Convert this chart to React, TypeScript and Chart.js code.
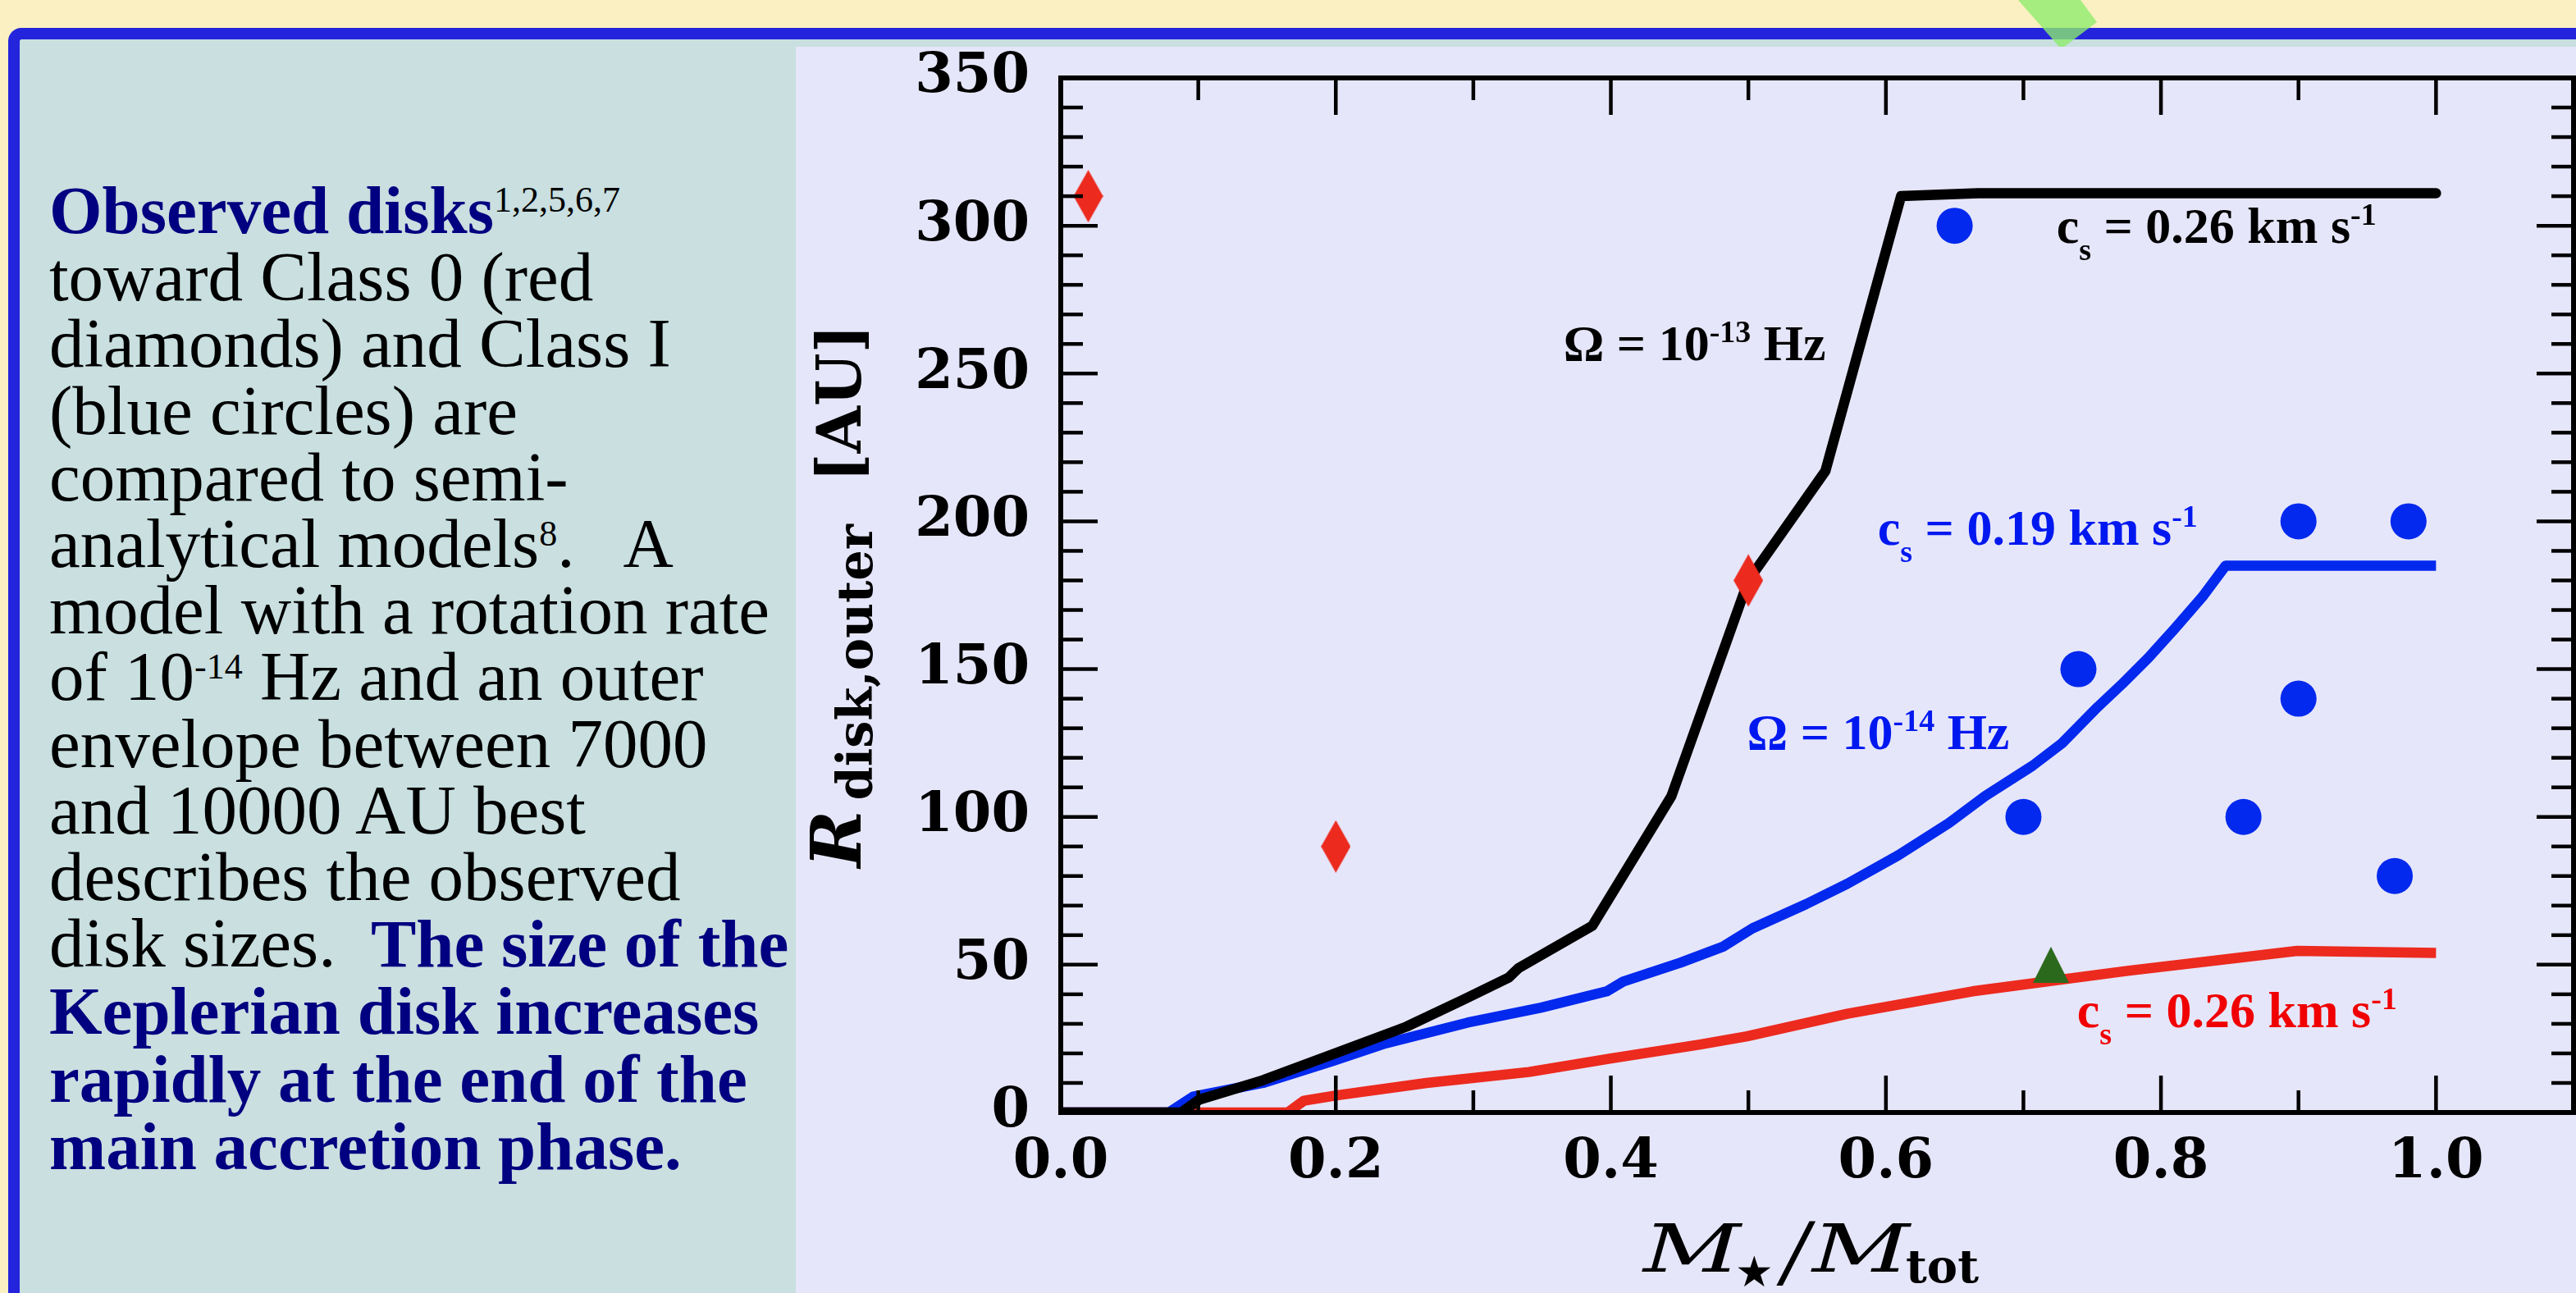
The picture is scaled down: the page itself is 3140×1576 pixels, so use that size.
import React, { useEffect, useRef } from 'react';
import { Chart, registerables } from 'chart.js';

Chart.register(...registerables);

// ---------- data ----------
const blackX = [0, 0.0875, 0.1009, 0.147, 0.1976, 0.2512, 0.2929, 0.3256, 0.333, 0.3866, 0.444, 0.5, 0.556, 0.611, 0.667, 1.0];
const blackY = [0, 0, 4.4, 10.9, 19.7, 29, 38.2, 45.6, 48.9, 63.2, 107, 180, 217, 310, 311, 311];

const blueX = [0, 0.0786, 0.0964, 0.147, 0.1976, 0.2363, 0.2958, 0.3494, 0.397, 0.409, 0.4506, 0.4815, 0.503, 0.542, 0.572, 0.609, 0.646, 0.672, 0.7066, 0.728, 0.754, 0.7714, 0.791, 0.81, 0.83, 0.847, 1.0];
const blueY = [0, 0, 5.4, 10, 17.4, 23.4, 30.4, 35.5, 41, 44.3, 50.7, 56.1, 62.3, 70.5, 77.4, 87, 98, 107, 117.3, 124.9, 137.2, 144.8, 153.9, 163.7, 174.4, 185, 185];

const redX = [0, 0.165, 0.1768, 0.2006, 0.266, 0.3405, 0.4, 0.4649, 0.499, 0.572, 0.663, 0.7755, 0.899, 1.0];
const redY = [0, 0, 4, 5.8, 10, 13.7, 18.3, 23, 25.8, 33.4, 41, 47.9, 54.7, 54];

const class0X = [0.02, 0.2, 0.5];
const class0Y = [310, 90, 180];

const class1X = [0.65, 0.74, 0.7, 0.9, 0.98, 0.9, 0.86, 0.97];
const class1Y = [300, 150, 100, 200, 200, 140, 100, 80];

const otherX = [0.72];
const otherY = [50];

const xTickValues = [0, 0.2, 0.4, 0.6, 0.8, 1.0];
const xTickLabels = ['0.0', '0.2', '0.4', '0.6', '0.8', '1.0'];
const xMinorTicks = [0.1, 0.3, 0.5, 0.7, 0.9];
const yTickValues = [0, 50, 100, 150, 200, 250, 300, 350];
const yTickLabels = ['0', '50', '100', '150', '200', '250', '300', '350'];
const yMinorTicks = [10, 20, 30, 40, 60, 70, 80, 90, 110, 120, 130, 140, 160, 170, 180, 190, 210, 220, 230, 240, 260, 270, 280, 290, 310, 320, 330, 340];

type Part = { t: string; k?: 'sub' | 'sup' };
const annotationX = [0.3655, 0.724, 0.594, 0.499, 0.739];
const annotationY = [254.4, 294.2, 192, 123, 29];
const annotationColors = ['#000000', '#000000', '#0018F0', '#0018F0', '#F00000'];
const annotationParts: Part[][] = [
  [{ t: 'Ω = 10' }, { t: '-13', k: 'sup' }, { t: ' Hz' }],
  [{ t: 'c' }, { t: 's', k: 'sub' }, { t: ' = 0.26 km s' }, { t: '-1', k: 'sup' }],
  [{ t: 'c' }, { t: 's', k: 'sub' }, { t: ' = 0.19 km s' }, { t: '-1', k: 'sup' }],
  [{ t: 'Ω = 10' }, { t: '-14', k: 'sup' }, { t: ' Hz' }],
  [{ t: 'c' }, { t: 's', k: 'sub' }, { t: ' = 0.26 km s' }, { t: '-1', k: 'sup' }],
];

const BLUE = '#0329EE';
const RED = '#EC2A1E';
const GREEN = '#2B6A1C';

function pts(xs: number[], ys: number[]) {
  return xs.map((x, i) => ({ x, y: ys[i] }));
}

function makeDiamond(w: number, h: number, color: string) {
  const c = document.createElement('canvas');
  c.width = w; c.height = h;
  const g = c.getContext('2d')!;
  g.fillStyle = color;
  g.beginPath();
  g.moveTo(w / 2, 0); g.lineTo(w, h / 2); g.lineTo(w / 2, h); g.lineTo(0, h / 2);
  g.closePath(); g.fill();
  return c;
}

function makeTriangle(w: number, h: number, color: string) {
  const c = document.createElement('canvas');
  c.width = w; c.height = h;
  const g = c.getContext('2d')!;
  g.fillStyle = color;
  g.beginPath();
  g.moveTo(w / 2, 0); g.lineTo(w, h); g.lineTo(0, h);
  g.closePath(); g.fill();
  return c;
}

function drawRich(ctx: CanvasRenderingContext2D, x: number, y: number, parts: Part[], color: string) {
  ctx.fillStyle = color;
  ctx.textAlign = 'left';
  ctx.textBaseline = 'alphabetic';
  let cx = x;
  for (const p of parts) {
    ctx.font = p.k ? 'bold 38px "Liberation Serif"' : 'bold 62px "Liberation Serif"';
    const dy = p.k === 'sub' ? 21 : p.k === 'sup' ? -22 : 0;
    ctx.fillText(p.t, cx, y + dy);
    cx += ctx.measureText(p.t).width;
  }
}

function drawWideM(ctx: CanvasRenderingContext2D, x: number, y: number) {
  ctx.save();
  ctx.translate(x, y);
  ctx.scale(1.45, 1);
  ctx.font = 'italic 80px "DejaVu Serif"';
  ctx.fillText('M', 0, 0);
  ctx.restore();
}

const framePlugin = {
  id: 'frameTicksTitles',
  afterDatasetsDraw(chart: any) {
    const { ctx, chartArea: a, scales } = chart;
    const xs = scales.x, ys = scales.y;
    const MAJ = 45, MIN = 27;
    ctx.save();
    ctx.strokeStyle = '#000';
    ctx.lineCap = 'butt';
    ctx.lineWidth = 4.5;
    const seg = (x1: number, y1: number, x2: number, y2: number) => {
      ctx.beginPath(); ctx.moveTo(x1, y1); ctx.lineTo(x2, y2); ctx.stroke();
    };
    xTickValues.forEach((v) => {
      const p = xs.getPixelForValue(v);
      seg(p, a.bottom, p, a.bottom - MAJ); seg(p, a.top, p, a.top + MAJ);
    });
    xMinorTicks.forEach((v) => {
      const p = xs.getPixelForValue(v);
      seg(p, a.bottom, p, a.bottom - MIN); seg(p, a.top, p, a.top + MIN);
    });
    yTickValues.forEach((v) => {
      const p = ys.getPixelForValue(v);
      seg(a.left, p, a.left + MAJ, p); seg(a.right, p, a.right - MAJ, p);
    });
    yMinorTicks.forEach((v) => {
      const p = ys.getPixelForValue(v);
      seg(a.left, p, a.left + MIN, p); seg(a.right, p, a.right - MIN, p);
    });
    ctx.lineWidth = 6;
    ctx.strokeRect(a.left, a.top, a.right - a.left, a.bottom - a.top);

    // in-plot annotations
    annotationParts.forEach((parts, i) => {
      drawRich(ctx, xs.getPixelForValue(annotationX[i]), ys.getPixelForValue(annotationY[i]), parts, annotationColors[i]);
    });

    // y-axis title
    const cy = (a.top + a.bottom) / 2;
    ctx.fillStyle = '#000';
    ctx.textAlign = 'left';
    ctx.textBaseline = 'alphabetic';
    ctx.save();
    ctx.translate(a.left - 244, cy + 332);
    ctx.rotate(-Math.PI / 2);
    ctx.font = 'italic bold 84px "DejaVu Serif"';
    ctx.fillText('R', 0, 0);
    ctx.font = 'bold 59px "DejaVu Serif"';
    ctx.fillText('disk,outer', 82, 14);
    ctx.font = 'bold 74px "DejaVu Serif"';
    ctx.fillText('[AU]', 470, 0);
    ctx.restore();

    // x-axis title
    const cx = (a.left + a.right) / 2;
    const by = a.bottom;
    drawWideM(ctx, cx - 212, by + 194);
    ctx.font = '52px "DejaVu Sans"';
    ctx.fillText('★', cx - 100, by + 212);
    ctx.font = 'italic 96px "DejaVu Serif"';
    ctx.fillText('/', cx - 42, by + 202);
    drawWideM(ctx, cx - 6, by + 194);
    ctx.font = 'bold 56px "DejaVu Serif"';
    ctx.fillText('tot', cx + 108, by + 207);
    ctx.restore();
  },
};

const CW = 2170;
const CH = 1519;

function zeroPadding(scale: any) {
  scale.paddingLeft = 0;
  scale.paddingRight = 0;
  scale.paddingTop = 0;
  scale.paddingBottom = 0;
}

function ChartPanel() {
  const ref = useRef<HTMLCanvasElement | null>(null);
  useEffect(() => {
    if (!ref.current) return;
    const diamond = makeDiamond(36, 64, RED);
    const tri = makeTriangle(44, 44, GREEN);
    const tickFont = { family: 'DejaVu Serif', weight: 'bold' as const, size: 67, lineHeight: 1 };
    const chart = new Chart(ref.current, {
      type: 'scatter',
      data: {
        datasets: [
          { label: 'Class I', data: pts(class1X, class1Y), pointStyle: 'circle', pointRadius: 22, pointHoverRadius: 22, backgroundColor: BLUE, borderWidth: 0, order: 0, clip: false } as any,
          { label: 'Class 0', data: pts(class0X, class0Y), pointStyle: diamond, pointRadius: 10, pointHoverRadius: 10, backgroundColor: RED, order: 0, clip: false } as any,
          { label: 'other', data: pts(otherX, otherY), pointStyle: tri, pointRadius: 10, pointHoverRadius: 10, backgroundColor: GREEN, order: 0, clip: false } as any,
          { label: 'Omega 1e-13', data: pts(blackX, blackY), showLine: true, borderColor: '#000000', borderWidth: 12.5, pointRadius: 0, pointHoverRadius: 0, borderCapStyle: 'round', borderJoinStyle: 'round', clip: 0, order: 1 } as any,
          { label: 'Omega 1e-14', data: pts(blueX, blueY), showLine: true, borderColor: BLUE, borderWidth: 12.5, pointRadius: 0, pointHoverRadius: 0, borderCapStyle: 'butt', borderJoinStyle: 'round', clip: 0, order: 2 } as any,
          { label: 'cs 0.26', data: pts(redX, redY), showLine: true, borderColor: RED, borderWidth: 12.5, pointRadius: 0, pointHoverRadius: 0, borderCapStyle: 'butt', borderJoinStyle: 'round', clip: 0, order: 3 } as any,
        ],
      },
      options: {
        animation: false,
        responsive: false,
        maintainAspectRatio: false,
        devicePixelRatio: 1,
        events: [],
        layout: { autoPadding: false, padding: { top: 38, right: 3, left: 0, bottom: 0 } },
        plugins: { legend: { display: false }, tooltip: { enabled: false }, title: { display: false } },
        scales: {
          x: {
            type: 'linear',
            position: 'bottom',
            min: 0,
            max: 1.1,
            grid: { display: false, drawTicks: false },
            border: { display: false },
            afterBuildTicks: (scale: any) => {
              scale.ticks = xTickValues.map((v) => ({ value: v }));
            },
            afterFit: (scale: any) => { scale.height = CH - 1299; zeroPadding(scale); },
            ticks: {
              color: '#000',
              font: tickFont,
              padding: 28,
              maxRotation: 0,
              autoSkip: false,
              callback: (v: any) => {
                const i = xTickValues.findIndex((t) => Math.abs(t - Number(v)) < 1e-9);
                return i >= 0 ? xTickLabels[i] : '';
              },
            },
          },
          y: {
            type: 'linear',
            position: 'left',
            min: 0,
            max: 350,
            grid: { display: false, drawTicks: false },
            border: { display: false },
            afterBuildTicks: (scale: any) => {
              scale.ticks = yTickValues.map((v) => ({ value: v }));
            },
            afterFit: (scale: any) => { scale.width = 323; zeroPadding(scale); },
            ticks: {
              color: '#000',
              font: tickFont,
              padding: 38,
              autoSkip: false,
              callback: (v: any) => {
                const i = yTickValues.indexOf(Number(v));
                return i >= 0 ? yTickLabels[i] : '';
              },
            },
          },
        },
      } as any,
      plugins: [framePlugin],
    });
    return () => chart.destroy();
  }, []);
  return <canvas ref={ref} width={CW} height={CH} style={{ display: 'block', width: CW, height: CH }} />;
}

const NAVY = '#000080';
const sup = { fontSize: '44px', verticalAlign: '26px', lineHeight: 0 } as React.CSSProperties;
const bold = { color: NAVY, fontWeight: 'bold', fontSize: '83px' } as React.CSSProperties;

export default function App() {
  return (
    <div style={{ position: 'fixed', left: 0, top: 0, width: 3140, height: 1576, overflow: 'hidden', background: '#FBF0C1' }}>
      <div
        style={{
          position: 'absolute', left: 10, top: 34, width: 3300, height: 1700,
          background: '#C9DFE0', borderLeft: '14px solid #2424DC', borderTop: '14px solid #2424DC',
          borderTopLeftRadius: 16, boxSizing: 'border-box',
        }}
      />
      <svg width={3140} height={80} style={{ position: 'absolute', left: 0, top: 0 }}>
        <polygon points="2460,0 2536,0 2556,27 2516,57 2510,57" fill="rgba(140,236,108,0.78)" />
      </svg>
      <div style={{ position: 'absolute', left: 970, top: 57, width: CW, height: CH, background: '#E6E6FA' }}>
        <ChartPanel />
      </div>
      <div
        style={{
          position: 'absolute', left: 60, top: 215, fontFamily: '"Liberation Serif", serif',
          fontSize: '85px', lineHeight: '81.2px', color: '#000', whiteSpace: 'nowrap',
        }}
      >
        <span style={bold}>Observed disks</span><span style={sup}>1,2,5,6,7</span><br />
        toward Class 0 (red<br />
        diamonds) and Class I<br />
        (blue circles) are<br />
        compared to semi-<br />
        analytical models<span style={sup}>8</span>.&nbsp;&nbsp; A<br />
        model with a rotation rate<br />
        of 10<span style={sup}>-14</span> Hz and an outer<br />
        envelope between 7000<br />
        and 10000 AU best<br />
        describes the observed<br />
        disk sizes.&nbsp; <span style={bold}>The size of the</span><br />
        <span style={bold}>Keplerian disk increases</span><br />
        <span style={bold}>rapidly at the end of the</span><br />
        <span style={bold}>main accretion phase.</span>
      </div>
    </div>
  );
}
